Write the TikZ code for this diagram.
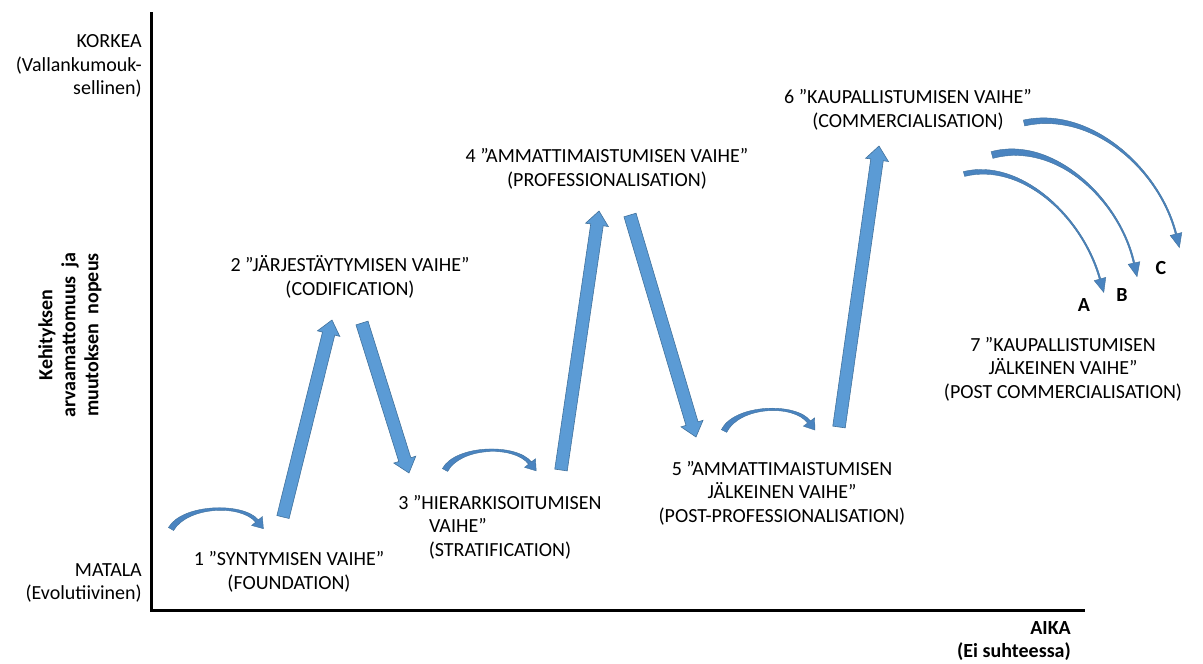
\documentclass[tikz,border=0pt]{standalone}
\usepackage{fontspec}
\setmainfont{Carlito}
\usetikzlibrary{calc}
\definecolor{arrowblue}{HTML}{5B9BD5}
\definecolor{arrowedge}{HTML}{41719C}
\definecolor{curveblue}{HTML}{4A84C0}

\tikzset{
  stage/.style={align=center, inner sep=0pt, font=\fontsize{20}{23.5}\selectfont},
  scalelabel/.style={align=right, inner sep=0pt, font=\fontsize{20}{23.5}\selectfont},
  blockarrow/.style={fill=arrowblue, draw=arrowedge, line width=0.6pt, line join=miter},
  taperarrow/.style={fill=curveblue, draw=arrowedge, line width=0.4pt},
}

% straight block arrow from #1 to #2
\newcommand{\blockarrow}[2]{%
  \coordinate (bh) at ($(#2)!14pt!(#1)$);
  \filldraw[blockarrow] ($(#1)!6.3pt!90:(#2)$) -- ($(bh)!6.3pt!-90:(#1)$)
    -- ($(bh)!11.5pt!-90:(#1)$) -- (#2) -- ($(bh)!11.5pt!90:(#1)$)
    -- ($(bh)!6.3pt!90:(#1)$) -- ($(#1)!6.3pt!-90:(#2)$) -- cycle;
}

% tapered bent arrow: start, control, control, shaft end, widths, head
\newcommand{\bentarrow}[8]{%
  \filldraw[taperarrow] ($(#1)!#5!90:(#2)$) .. controls ($(#2)!#5!-90:(#1)$) and ($(#3)!#6!90:(#4)$) .. ($(#4)!#6!-90:(#3)$)
    -- ($(#4)!#7!-90:(#3)$) -- ($(#4)!-#8!(#3)$) -- ($(#4)!#7!90:(#3)$)
    -- ($(#4)!#6!90:(#3)$) .. controls ($(#3)!#6!-90:(#4)$) and ($(#2)!#5!90:(#1)$) .. ($(#1)!#5!-90:(#2)$) -- cycle;
}

\begin{document}
\begin{tikzpicture}[x=1pt, y=-1pt]
    \useasboundingbox (0,0) rectangle (1203,664);

    % Axes
    \coordinate (origin) at (151,610);
    \coordinate (ytop) at (151,12);
    \coordinate (xend) at (1085,610);
    \draw[line width=3pt] (ytop) -- (origin) -- (xend);

    % Axis labels
    \node[scalelabel, anchor=east] (high) at (142,66) {KORKEA\\(Vallankumouk-\\sellinen)};
    \node[scalelabel, anchor=east] (low) at (142,583) {MATALA\\(Evolutiivinen)};
    \node[stage, rotate=90, font=\fontsize{20}{23}\selectfont\bfseries] (ylabel) at (70,335)
        {Kehityksen\\arvaamattomuus\ \ ja\\muutoksen\ \ nopeus};
    \node[scalelabel, anchor=east, font=\fontsize{20}{23.5}\selectfont\bfseries] (time) at (1071,641)
        {AIKA\\(Ei suhteessa)};

    % Stages
    \node[stage] (s1) at (289,572) {1 ”SYNTYMISEN VAIHE”\\(FOUNDATION)};
    \node[stage] (s2) at (350,277) {2 ”JÄRJESTÄYTYMISEN VAIHE”\\(CODIFICATION)};
    \node[stage] (s3) at (500,527) {3 ”HIERARKISOITUMISEN\\\makebox[142pt][l]{VAIHE”}\\(STRATIFICATION)};
    \node[stage] (s4) at (607,169) {4 ”AMMATTIMAISTUMISEN VAIHE”\\(PROFESSIONALISATION)};
    \node[stage] (s5) at (782,493) {5 ”AMMATTIMAISTUMISEN\\JÄLKEINEN VAIHE”\\(POST-PROFESSIONALISATION)};
    \node[stage] (s6) at (908,110) {6 ”KAUPALLISTUMISEN VAIHE”\\(COMMERCIALISATION)};
    \node[stage] (s7) at (1063,369) {7 ”KAUPALLISTUMISEN\\JÄLKEINEN VAIHE”\\(POST COMMERCIALISATION)};

    % Rise and fall arrows
    \blockarrow{283,517}{332,320}
    \blockarrow{362,323}{409,473}
    \blockarrow{561,470}{599,211}
    \blockarrow{630,215}{696,437}
    \blockarrow{839,427}{879,146}

    % Small bent arrows
    \bentarrow{171,529}{185,505}{242,503}{257,521}{3pt}{1.8pt}{7pt}{10pt}
    \bentarrow{445,470}{458,446}{515,444}{530,463}{3pt}{1.8pt}{7pt}{10pt}
    \bentarrow{724,431}{737,405}{795,403}{809,422}{3pt}{1.8pt}{7pt}{10pt}

    % Alternatives after commercialisation
    \bentarrow{964,174}{1020,160}{1082,215}{1100,279}{2.5pt}{0.8pt}{6pt}{14pt}
    \bentarrow{992,155}{1055,138}{1120,200}{1134,263}{3.5pt}{0.8pt}{6pt}{14pt}
    \bentarrow{1024,123}{1092,108}{1160,170}{1176,234}{3pt}{0.8pt}{6pt}{14pt}
    \node[font=\fontsize{20}{23.5}\selectfont\bfseries, inner sep=0pt] (pa) at (1084,305) {A};
    \node[font=\fontsize{20}{23.5}\selectfont\bfseries, inner sep=0pt] (pb) at (1122,295) {B};
    \node[font=\fontsize{20}{23.5}\selectfont\bfseries, inner sep=0pt] (pc) at (1161,268) {C};
\end{tikzpicture}
\end{document}
